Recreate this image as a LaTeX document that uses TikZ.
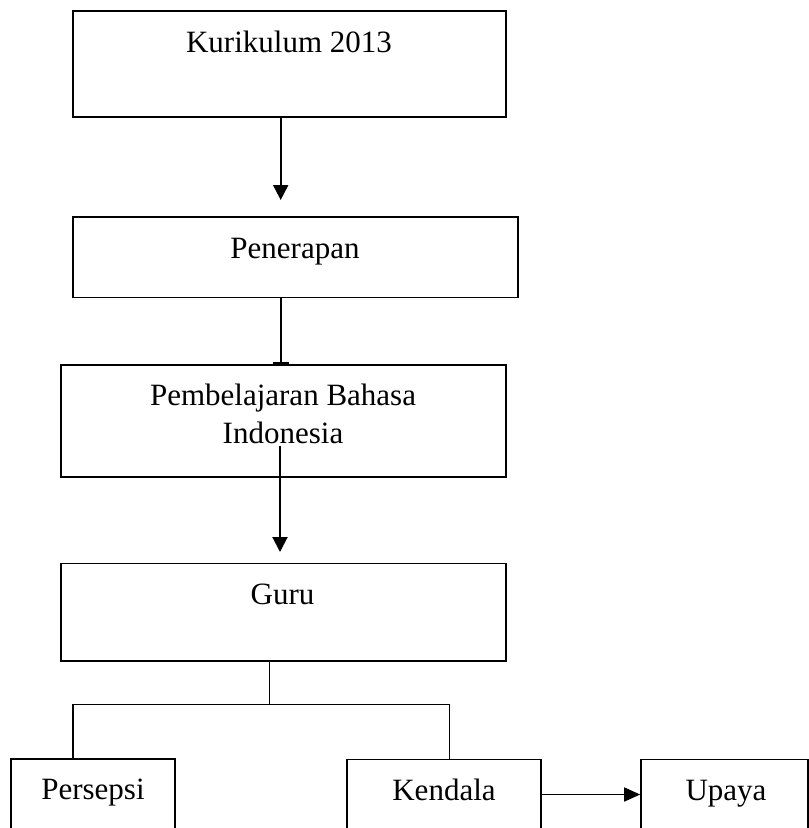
\documentclass[tikz,border=0pt]{standalone}
\usepackage{fontspec}
\setmainfont{Liberation Serif}
\usetikzlibrary{arrows.meta}
\begin{document}
\begin{tikzpicture}[x=1pt,y=-1pt,
  box/.style={draw,line width=1.6pt,rectangle,inner sep=0pt},
  lbl/.style={anchor=base,inner sep=0pt,font=\fontsize{31}{38}\selectfont,align=center},
  conn/.style={line width=2pt},
  arr/.style={line width=2pt,-{Triangle[length=15pt,width=15pt]}}]
\useasboundingbox (0,0) rectangle (809,828);
\clip (0,0) rectangle (809,828);
% boxes
\node[box,minimum width=433pt,minimum height=106pt] (b1) at (289.2,64) {};
\node[box,minimum width=445pt,minimum height=80.6pt] (b2) at (295.2,257) {};
\node[box,minimum width=445pt,minimum height=112pt] (b3) at (283.2,421) {};
\node[box,minimum width=445pt,minimum height=97.7pt] (b4) at (283.2,612.2) {};
\node[box,minimum width=164pt,minimum height=111pt] (persepsi) at (93,814.5) {};
\node[box,minimum width=194.3pt,minimum height=110.7pt] (kendala) at (443.85,814.65) {};
\node[box,minimum width=167pt,minimum height=110.7pt] (upaya) at (724.5,814.65) {};
% labels
\node[lbl] (t1) at (289,52) {Kurikulum 2013};
\node[lbl] (t2) at (295,258.3) {Penerapan};
\node[lbl] (t3a) at (283,405) {Pembelajaran Bahasa};
\node[lbl] (t3b) at (283,443) {Indonesia};
\node[lbl] (t4) at (282.5,604) {Guru};
\node[lbl] (t5) at (93,799.5) {Persepsi};
\node[lbl] (t6) at (444,800) {Kendala};
\node[lbl] (t7) at (726,800) {Upaya};
% connectors
\coordinate (e1) at (280.7,200);
\draw[arr] (b1.south -| e1) -- (e1);
\coordinate (e2) at (281,364);
\draw[conn,-{Bar[width=16pt,line width=1.6pt]}] (b2.south -| e2) -- (e2);
\coordinate (s3) at (280,446);
\coordinate (e3) at (280,552);
\draw[arr] (s3) -- (e3);
\coordinate (j) at (269.3,704.3);
\coordinate (jl) at (72.7,704.3);
\coordinate (jr) at (449.3,704.3);
\draw[box] (b4.south -| j) -- (j);
\draw[box] (jl) -- (jr);
\draw[box] (jl) -- (jl |- persepsi.north);
\draw[box] (jr) -- (jr |- kendala.north);
\draw[line width=1.6pt,-{Triangle[length=16pt,width=14pt]}] ([yshift=-36pt]kendala.north east) -- ([yshift=-36pt]upaya.north west);
\end{tikzpicture}
\end{document}
